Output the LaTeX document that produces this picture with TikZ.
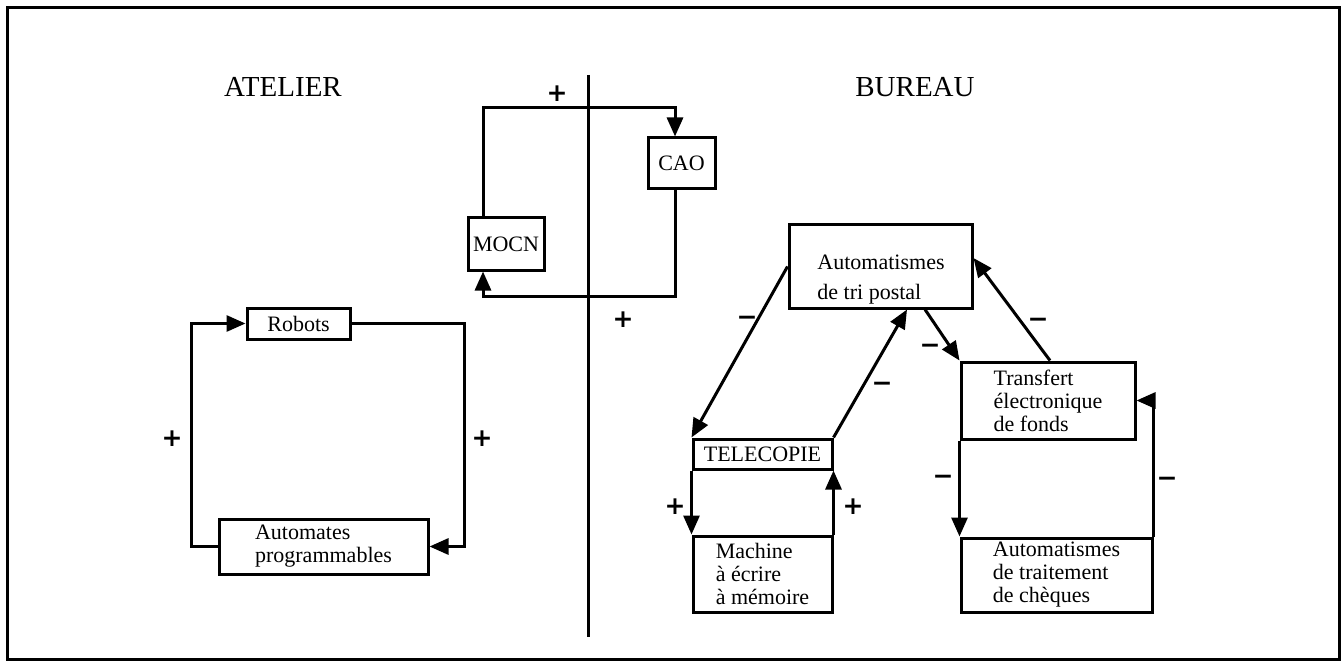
\documentclass[tikz,border=0pt]{standalone}
\usepackage{fontspec}
\setmainfont{Liberation Serif}
\newfontfamily\signfont{DejaVu Sans}
\usetikzlibrary{arrows.meta,calc}
\begin{document}
\begin{tikzpicture}[x=1pt,y=-1pt,
  ln/.style={line width=3pt},
  arr/.style={ln,-{Triangle[length=19pt,width=16pt]}},
  box/.style={draw,line width=3pt,inner sep=2pt,align=left,font=\fontsize{22}{23}\selectfont},
  btext/.style={inner sep=0pt,align=left},
  sign/.style={font=\signfont\bfseries\fontsize{25}{25}\selectfont,anchor=base,yshift=-9pt,inner sep=0pt},
  title/.style={font=\fontsize{29}{32}\selectfont,anchor=base,inner sep=0pt}]
\useasboundingbox (0,0) rectangle (1341,663);
\draw[ln] (7,8) rectangle (1339,659);
% divider
\coordinate (d1) at (588,75);
\coordinate (d2) at (588,637);
\draw[ln] (d1) -- (d2);
% titles
\node[title] (atelier) at (283,97) {ATELIER};
\node[title] (bureau) at (915,97) {BUREAU};
% ATELIER boxes
\node[box,minimum width=103pt,minimum height=31pt] (robots) at (298.5,323.5) {Robots};
\node[box,minimum width=209pt,minimum height=55pt] (auto) at (323.5,546.5) {Automates\\programmables};
\coordinate (cL) at (191,0);
\coordinate (cR) at (464,0);
\draw[arr] (auto.west) -| (cL |- robots.west) -- (robots.west);
\draw[arr] (robots.east) -| (cR |- auto.east) -- (auto.east);
\node[sign] (s1) at (172,437) {+};
\node[sign] (s2) at (482,437) {+};
% MOCN / CAO
\node[box,minimum width=76pt,minimum height=52pt] (mocn) at (506,244) {MOCN};
\node[box,minimum width=67pt,minimum height=51pt] (cao) at (681.5,163.5) {CAO};
\coordinate (t1) at (483,108);
\coordinate (t2) at (675,108);
\coordinate (b1) at (675,296);
\coordinate (b2) at (483,296);
\draw[arr] (mocn.north -| t1) -- (t1) -- (t2) -- (cao.north -| t2);
\draw[arr] (cao.south -| b1) -- (b1) -- (b2) -- (mocn.south -| b2);
\node[sign] (s3) at (557,93) {+};
\node[sign] (s4) at (623,318) {+};
% BUREAU
\node[box,minimum width=183pt,minimum height=83pt] (tri) at (880.5,266.5) {};
\node[btext,font=\fontsize{22}{30}\selectfont] (tritext) at (881,280) {Automatismes\\de tri postal};
\node[box,minimum width=139pt,minimum height=30pt] (tele) at (762.5,454) {TELECOPIE};
\node[box,minimum width=139pt,minimum height=76pt] (mach) at (762.5,574) {Machine\\à écrire\\à mémoire};
\node[box,minimum width=174pt,minimum height=77pt] (trans) at (1048,400.5) {Transfert\\électronique\\de fonds};
\node[box,minimum width=191pt,minimum height=74pt] (trait) at (1056.5,575) {Automatismes\\de traitement\\de chèques};
\coordinate (a2) at (907,0);
\coordinate (a3) at (925,0);
\coordinate (a4) at (0,258);
\coordinate (a5) at (1050,0);
\draw[arr] (tri.west) -- (tele.north west);
\draw[arr] (tele.north east) -- (tri.south -| a2);
\draw[arr] (tri.south -| a3) -- (trans.north west);
\draw[arr] (trans.north -| a5) -- (tri.east |- a4);
\draw[arr] (tele.south west) -- (mach.north west);
\draw[arr] (mach.north east) -- (tele.south east);
\draw[arr] (trans.south west) -- (trait.north west);
\draw[arr] (trait.north east) |- (trans.east);
\node[sign] (m1) at (747,316) {−};
\node[sign] (m2) at (882,382) {−};
\node[sign] (m3) at (930,344) {−};
\node[sign] (m4) at (1038,318) {−};
\node[sign] (m5) at (943,475) {−};
\node[sign] (m6) at (1167,477) {−};
\node[sign] (s5) at (675,505) {+};
\node[sign] (s6) at (853,505) {+};
\end{tikzpicture}
\end{document}
